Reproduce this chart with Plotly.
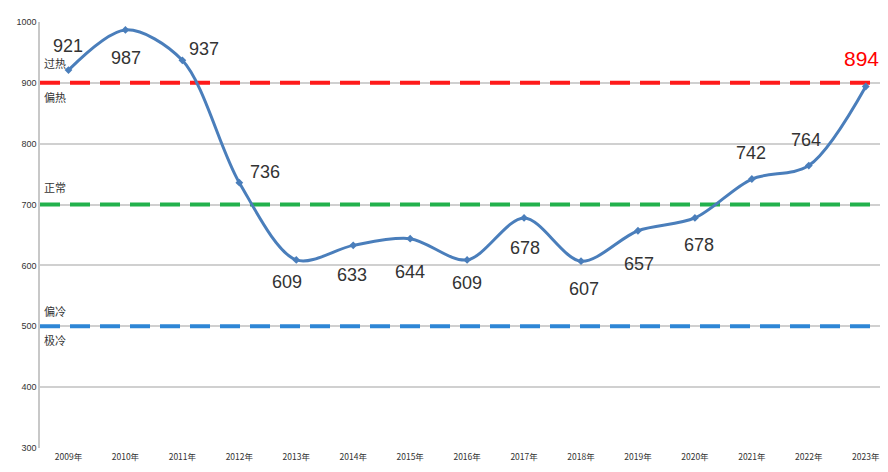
import plotly.graph_objects as go

years = ["2009年", "2010年", "2011年", "2012年", "2013年", "2014年", "2015年", "2016年",
         "2017年", "2018年", "2019年", "2020年", "2021年", "2022年", "2023年"]
values = [921, 987, 937, 736, 609, 633, 644, 609, 678, 607, 657, 678, 742, 764, 894]
label_colors = ["#333333"] * 14 + ["#ff0000"]

thresholds = [900, 700, 500]
threshold_colors = ["#ff1a1a", "#22b14c", "#2e86d6"]
zone_labels = [("过热", 900, "above"), ("偏热", 900, "below"), ("正常", 700, "above"),
               ("偏冷", 500, "above"), ("极冷", 500, "below")]

# pixel offsets for value labels (styling)
label_dx = [0, 1, 22, 26, -9, -1, 0, 0, 1, 3, 1, 4, -1, -3, -4]
label_dy = [-24, 28, -11, -11, 22, 30, 33, 23, 30, 28, 33, 27, -26, -26, -28]

xs = list(range(len(years)))

fig = go.Figure()
for t, c in zip(thresholds, threshold_colors):
    fig.add_trace(go.Scatter(x=[-0.5, 14.4], y=[t, t], mode="lines",
                             line=dict(color=c, width=4, dash="20px,10px"),
                             hoverinfo="skip", showlegend=False))

fig.add_trace(go.Scatter(x=xs, y=values, mode="lines+markers",
                         line=dict(color="#4a7ebb", width=3, shape="spline", smoothing=0.9),
                         marker=dict(size=6, color="#4a7ebb", symbol="diamond"),
                         showlegend=False))

annotations = []
for i, v in enumerate(values):
    annotations.append(dict(x=i, y=v, text=str(v), showarrow=False,
                            xshift=label_dx[i], yshift=-label_dy[i],
                            font=dict(family="Liberation Sans Narrow, Arial Narrow, Liberation Sans, sans-serif",
                                      size=18 if i < 14 else 21, color=label_colors[i])))
zone_shift = {"过热": 10, "偏热": -4, "正常": 8, "偏冷": 5, "极冷": -4}
for txt, yv, pos in zone_labels:
    annotations.append(dict(x=-0.5, y=yv, xref="x", yref="y", text=txt, showarrow=False,
                            xanchor="left", yanchor="bottom" if pos == "above" else "top",
                            xshift=2, yshift=zone_shift[txt],
                            font=dict(family="Noto Sans CJK SC", size=11, color="#333333")))

fig.update_layout(
    width=872, height=456,
    margin=dict(l=32, r=0, t=14, b=16),
    paper_bgcolor="white", plot_bgcolor="white",
    annotations=annotations,
    xaxis=dict(type="linear", range=[-0.5, 14.25], tickmode="array", tickvals=xs, ticktext=years,
               showgrid=False, zeroline=False, showline=False, ticklabelstandoff=2,
               ticklabeloverflow="allow",
               tickfont=dict(family="Noto Sans CJK SC", size=8.5, color="#333333")),
    yaxis=dict(range=[300, 1000], tickmode="array", tickvals=list(range(300, 1001, 100)),
               ticktext=[str(v) for v in range(300, 1001, 100)],
               showgrid=True, gridcolor="#d0d0d0", gridwidth=1.5, zeroline=False,
               showline=True, linecolor="#c8c8c8", linewidth=1.5,
               tickfont=dict(family="Liberation Sans Narrow, Liberation Sans, sans-serif", size=9, color="#333333")),
)

fig.write_html("out.html")
